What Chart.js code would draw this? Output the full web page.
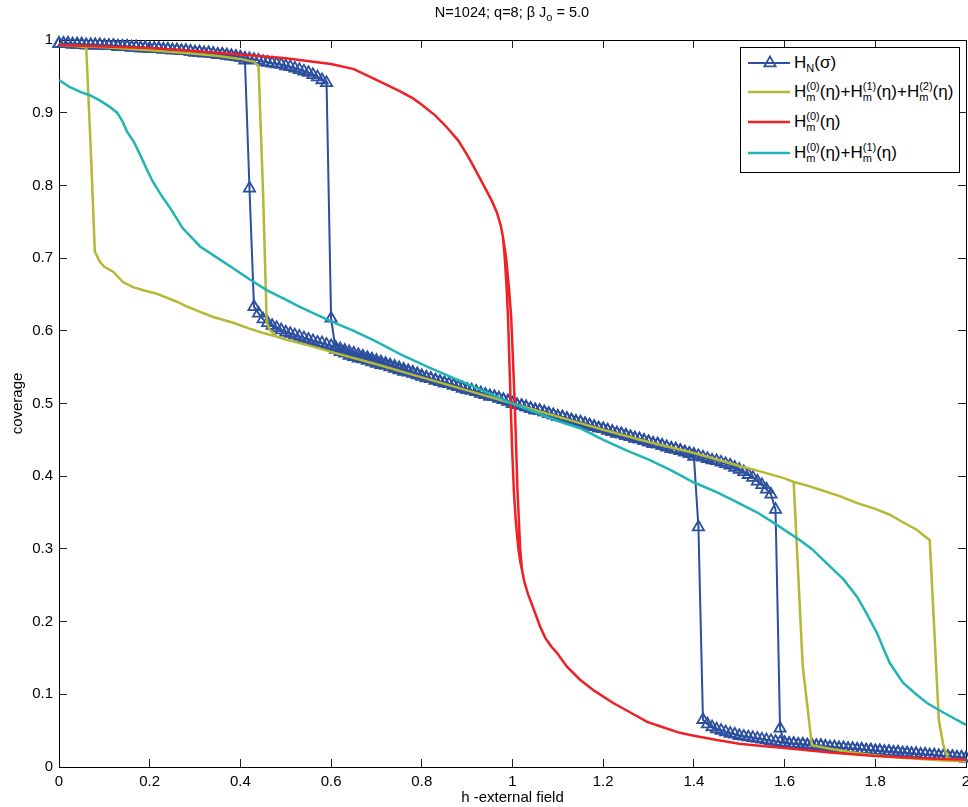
<!DOCTYPE html>
<html>
<head>
<meta charset="utf-8">
<script src="https://cdn.jsdelivr.net/npm/chart.js@4.4.0/dist/chart.umd.min.js"></script>
<style>
  html, body { margin: 0; padding: 0; background: #fff; }
  #wrap { position: relative; width: 968px; height: 807px; font-family: "Liberation Sans", Arial, Helvetica, sans-serif; color: #000; }
  #plot { position: absolute; left: 0; top: 0; }
  #title { position: absolute; left: 312px; top: 4px; width: 400px; text-align: center; font-size: 14.5px; }
  #title .sb { font-size: 11px; position: relative; top: 4px; }
  #legend { position: absolute; left: 740px; top: 47px; width: 218px; height: 124px; border: 1px solid #000; background: #fff; }
  #legend .row { position: absolute; left: 0; height: 30px; width: 218px; }
  #legend svg { position: absolute; left: 7px; top: 0; }
  #legend .txt { position: absolute; left: 53px; top: 4px; font-size: 17px; line-height: 22px; white-space: nowrap; }
  .sb1 { font-size: 11px; vertical-align: -4px; }
  .st { display: inline-block; font-size: 11px; line-height: 11px; vertical-align: -4px; }
  .st span { display: block; }
</style>
</head>
<body>
<div id="wrap">
  <canvas id="plot" width="968" height="807"></canvas>
  <div id="title">N=1024; q=8; β J<span class="sb">o</span> = 5.0</div>
  <div id="legend">
    <div class="row" style="top:0px">
      <svg width="44" height="30"><line x1="0" y1="15" x2="42" y2="15" stroke="#2c4f9f" stroke-width="2"/><polygon points="22,8.5 16.4,18.3 27.6,18.3" fill="none" stroke="#2c4f9f" stroke-width="1.8"/></svg>
      <span class="txt">H<span class="sb1">N</span>(σ)</span>
    </div>
    <div class="row" style="top:29px">
      <svg width="44" height="30"><line x1="0" y1="15" x2="42" y2="15" stroke="#b5b834" stroke-width="2.5"/></svg>
      <span class="txt">H<span class="st"><span>(0)</span><span>m</span></span>(η)+H<span class="st"><span>(1)</span><span>m</span></span>(η)+H<span class="st"><span>(2)</span><span>m</span></span>(η)</span>
    </div>
    <div class="row" style="top:59px">
      <svg width="44" height="30"><line x1="0" y1="15" x2="42" y2="15" stroke="#ee2125" stroke-width="2.5"/></svg>
      <span class="txt">H<span class="st"><span>(0)</span><span>m</span></span>(η)</span>
    </div>
    <div class="row" style="top:90px">
      <svg width="44" height="30"><line x1="0" y1="15" x2="42" y2="15" stroke="#21b4b6" stroke-width="2.5"/></svg>
      <span class="txt">H<span class="st"><span>(0)</span><span>m</span></span>(η)+H<span class="st"><span>(1)</span><span>m</span></span>(η)</span>
    </div>
  </div>
</div>
<script>
const xTicks = [0, 0.2, 0.4, 0.6, 0.8, 1, 1.2, 1.4, 1.6, 1.8, 2];
const yTicks = [0, 0.1, 0.2, 0.3, 0.4, 0.5, 0.6, 0.7, 0.8, 0.9, 1];

// field grid of the simulation, h = 0, 0.01, ... 2
const hGrid = Array.from({ length: 201 }, (_, i) => i / 100);

// H_N(sigma), increasing h
const blueUp = [
  0.995, 0.995, 0.995, 0.994, 0.994, 0.994, 0.993, 0.993, 0.993, 0.993,
  0.992, 0.992, 0.992, 0.991, 0.991, 0.991, 0.990, 0.990, 0.989, 0.989,
  0.988, 0.988, 0.988, 0.987, 0.987, 0.986, 0.986, 0.985, 0.985, 0.984,
  0.983, 0.983, 0.982, 0.982, 0.981, 0.980, 0.980, 0.979, 0.978, 0.977,
  0.976, 0.975, 0.974, 0.973, 0.972, 0.970, 0.969, 0.968, 0.967, 0.966,
  0.964, 0.963, 0.961, 0.959, 0.957, 0.955, 0.952, 0.949, 0.945, 0.941,
  0.617, 0.574,
  0.571, 0.569, 0.566, 0.564, 0.562, 0.561, 0.559, 0.557,
  0.555, 0.553, 0.552, 0.550, 0.548, 0.546, 0.544, 0.543, 0.541, 0.539,
  0.537, 0.535, 0.534, 0.532, 0.530, 0.528, 0.527, 0.525, 0.523, 0.521,
  0.519, 0.518, 0.516, 0.514, 0.512, 0.510, 0.509, 0.507, 0.505, 0.503,
  0.500, 0.498, 0.497, 0.495, 0.493, 0.491, 0.490, 0.488, 0.486, 0.484,
  0.482, 0.481, 0.479, 0.477, 0.475, 0.474, 0.472, 0.470, 0.468, 0.466,
  0.465, 0.463, 0.461, 0.459, 0.458, 0.456, 0.454, 0.452, 0.451, 0.449,
  0.447, 0.445, 0.444, 0.442, 0.440, 0.438, 0.437, 0.435, 0.433, 0.431,
  0.430, 0.428, 0.426, 0.424, 0.422, 0.421, 0.419, 0.417, 0.415, 0.412,
  0.409, 0.406, 0.402, 0.398, 0.393, 0.388, 0.382, 0.375,
  0.354, 0.053,
  0.033, 0.032, 0.032, 0.031, 0.031, 0.030, 0.030, 0.029, 0.029, 0.028,
  0.027, 0.027, 0.026, 0.026, 0.025, 0.025, 0.024, 0.024, 0.023, 0.023,
  0.022, 0.022, 0.021, 0.021, 0.020, 0.020, 0.019, 0.019, 0.018, 0.018,
  0.017, 0.017, 0.016, 0.016, 0.015, 0.015, 0.014, 0.014, 0.013, 0.013,
  0.012,
];

// H_N(sigma), decreasing h (stored in ascending h)
const blueDown = [
  0.995, 0.995, 0.995, 0.994, 0.994, 0.994, 0.993, 0.993, 0.993, 0.993,
  0.992, 0.992, 0.992, 0.991, 0.991, 0.991, 0.990, 0.990, 0.989, 0.989,
  0.988, 0.988, 0.988, 0.987, 0.987, 0.986, 0.986, 0.985, 0.985, 0.984,
  0.983, 0.983, 0.982, 0.982, 0.981, 0.980, 0.980, 0.979, 0.978, 0.977,
  0.976, 0.972,
  0.796, 0.633,
  0.624, 0.616, 0.611, 0.607, 0.604, 0.601,
  0.598, 0.596, 0.594, 0.592, 0.590, 0.588, 0.586, 0.584, 0.583, 0.581,
  0.579, 0.577, 0.575, 0.573, 0.571, 0.569, 0.567, 0.565, 0.563, 0.561,
  0.559, 0.557, 0.555, 0.553, 0.551, 0.549, 0.547, 0.545, 0.543, 0.541,
  0.538, 0.536, 0.534, 0.532, 0.530, 0.528, 0.527, 0.525, 0.523, 0.521,
  0.519, 0.518, 0.516, 0.514, 0.512, 0.510, 0.509, 0.507, 0.505, 0.503,
  0.500, 0.498, 0.497, 0.495, 0.493, 0.491, 0.490, 0.488, 0.486, 0.484,
  0.482, 0.481, 0.479, 0.477, 0.475, 0.474, 0.472, 0.470, 0.468, 0.466,
  0.465, 0.463, 0.461, 0.459, 0.458, 0.456, 0.454, 0.452, 0.451, 0.449,
  0.447, 0.445, 0.444, 0.442, 0.440, 0.438, 0.437, 0.435, 0.433, 0.431,
  0.427, 0.330, 0.065,
  0.059, 0.055, 0.052, 0.050, 0.048, 0.046, 0.045,
  0.043, 0.042, 0.041, 0.040, 0.039, 0.038, 0.037, 0.036, 0.035, 0.034,
  0.033, 0.032, 0.032, 0.031, 0.031, 0.030, 0.030, 0.029, 0.029, 0.028,
  0.027, 0.027, 0.026, 0.026, 0.025, 0.025, 0.024, 0.024, 0.023, 0.023,
  0.022, 0.022, 0.021, 0.021, 0.020, 0.020, 0.019, 0.019, 0.018, 0.018,
  0.017, 0.017, 0.016, 0.016, 0.015, 0.015, 0.014, 0.014, 0.013, 0.013,
  0.012,
];

// H0+H1+H2
const oliveUpH = [0, 0.1, 0.2, 0.3, 0.35, 0.4, 0.43, 0.44, 0.45, 0.458, 0.465, 0.48, 0.5, 0.55, 0.6, 0.7, 0.8, 0.9, 1.0, 1.1,
  1.2, 1.3, 1.4, 1.45, 1.5, 1.55, 1.6, 1.62, 1.65, 1.685, 1.72, 1.76, 1.8, 1.832, 1.86, 1.892, 1.92, 1.93, 1.94, 1.95, 1.96, 1.98, 2.0];
const oliveUpC = [0.993, 0.990, 0.986, 0.981, 0.978, 0.974, 0.970, 0.964, 0.790, 0.612, 0.601, 0.592, 0.588, 0.580, 0.571, 0.554, 0.536, 0.518, 0.500, 0.482,
  0.464, 0.447, 0.432, 0.423, 0.414, 0.406, 0.397, 0.392, 0.387, 0.380, 0.373, 0.363, 0.355, 0.347, 0.337, 0.326, 0.312, 0.190, 0.065, 0.030, 0.012, 0.009, 0.008];
const oliveDownH = [0, 0.03, 0.06, 0.07, 0.079, 0.09, 0.1, 0.12, 0.141, 0.163, 0.19, 0.216, 0.24, 0.26, 0.28, 0.311, 0.34, 0.384, 0.42, 0.45,
  0.48, 0.5, 0.55, 0.6, 0.7, 0.8, 0.9, 1.0, 1.1, 1.2, 1.3, 1.4, 1.45, 1.5, 1.55, 1.6, 1.62, 1.63, 1.64, 1.65,
  1.66, 1.7, 1.75, 1.8, 1.85, 1.9, 1.95, 2.0];
const oliveDownC = [0.993, 0.992, 0.990, 0.850, 0.709, 0.695, 0.688, 0.681, 0.667, 0.660, 0.655, 0.651, 0.645, 0.640, 0.634, 0.626, 0.619, 0.611, 0.603, 0.597,
  0.592, 0.588, 0.580, 0.571, 0.554, 0.536, 0.518, 0.500, 0.482, 0.464, 0.447, 0.432, 0.423, 0.414, 0.406, 0.397, 0.392, 0.265, 0.138, 0.085,
  0.030, 0.025, 0.020, 0.016, 0.013, 0.011, 0.009, 0.008];

// H0
const redUpH = [0, 0.1, 0.2, 0.3, 0.4, 0.5, 0.6, 0.65, 0.7, 0.75, 0.78, 0.8, 0.83, 0.855, 0.88, 0.9, 0.915, 0.928, 0.945, 0.955,
  0.966, 0.974, 0.979, 0.983, 0.987, 0.990, 0.993, 0.996, 0.999, 1.003, 1.007, 1.013, 1.017, 1.021, 1.026, 1.034, 1.045, 1.061, 1.072, 1.085,
  1.098, 1.12, 1.149, 1.18, 1.222, 1.26, 1.297, 1.33, 1.369, 1.4, 1.451, 1.5, 1.55, 1.6, 1.7, 1.8, 1.9, 2.0];
const redUpC = [0.993, 0.991, 0.989, 0.985, 0.980, 0.975, 0.967, 0.960, 0.945, 0.930, 0.920, 0.911, 0.896, 0.880, 0.862, 0.842, 0.825, 0.810, 0.790, 0.778,
  0.762, 0.745, 0.729, 0.700, 0.660, 0.620, 0.560, 0.500, 0.440, 0.380, 0.340, 0.300, 0.283, 0.271, 0.255, 0.238, 0.220, 0.193, 0.178, 0.166,
  0.157, 0.138, 0.120, 0.105, 0.088, 0.075, 0.062, 0.055, 0.047, 0.043, 0.037, 0.032, 0.029, 0.026, 0.020, 0.015, 0.012, 0.010];
const redDownH = [0, 0.1, 0.2, 0.3, 0.4, 0.5, 0.6, 0.65, 0.7, 0.75, 0.78, 0.8, 0.83, 0.855, 0.88, 0.9, 0.915, 0.928, 0.945, 0.955,
  0.966, 0.974, 0.979, 0.986, 0.992, 0.997, 1.001, 1.005, 1.008, 1.011, 1.014, 1.017, 1.021, 1.026, 1.034, 1.045, 1.061, 1.072, 1.085, 1.098,
  1.12, 1.149, 1.18, 1.222, 1.26, 1.297, 1.33, 1.369, 1.4, 1.451, 1.5, 1.55, 1.6, 1.7, 1.8, 1.9, 2.0];
const redDownC = [0.993, 0.991, 0.989, 0.985, 0.980, 0.975, 0.967, 0.960, 0.945, 0.930, 0.920, 0.911, 0.896, 0.880, 0.862, 0.842, 0.825, 0.810, 0.790, 0.778,
  0.762, 0.745, 0.729, 0.700, 0.660, 0.620, 0.560, 0.500, 0.440, 0.380, 0.340, 0.300, 0.271, 0.255, 0.238, 0.220, 0.193, 0.178, 0.166, 0.157,
  0.138, 0.120, 0.105, 0.088, 0.075, 0.062, 0.055, 0.047, 0.043, 0.037, 0.032, 0.029, 0.026, 0.020, 0.015, 0.012, 0.010];

// H0+H1
const cyanH = [0, 0.024, 0.05, 0.068, 0.09, 0.112, 0.128, 0.14, 0.15, 0.165, 0.179, 0.193, 0.207, 0.225, 0.245, 0.273, 0.311, 0.35, 0.384, 0.42,
  0.458, 0.5, 0.531, 0.6, 0.65, 0.7, 0.752, 0.818, 0.9, 1.0, 1.1, 1.149, 1.2, 1.25, 1.303, 1.35, 1.398, 1.45, 1.486, 1.54,
  1.583, 1.634, 1.66, 1.693, 1.73, 1.76, 1.78, 1.804, 1.82, 1.832, 1.861, 1.89, 1.914, 1.95, 2.0];
const cyanC = [0.945, 0.935, 0.928, 0.924, 0.917, 0.908, 0.900, 0.888, 0.874, 0.860, 0.842, 0.823, 0.805, 0.787, 0.769, 0.741, 0.716, 0.700, 0.686, 0.671,
  0.656, 0.643, 0.633, 0.613, 0.600, 0.585, 0.568, 0.549, 0.527, 0.500, 0.476, 0.466, 0.450, 0.436, 0.422, 0.408, 0.392, 0.378, 0.367, 0.350,
  0.333, 0.312, 0.300, 0.280, 0.258, 0.234, 0.212, 0.184, 0.160, 0.143, 0.116, 0.100, 0.088, 0.075, 0.058];

const BLUE = "#2c4f9f";
const OLIVE = "#b5b834";
const RED = "#ee2125";
const CYAN = "#21b4b6";

function pts(hs, cs) {
  return hs.map((h, i) => ({ x: h, y: cs[i] }));
}

// up sweep then back down, as one path
function loop(upH, upC, downH, downC) {
  return pts(upH, upC).concat(pts(downH, downC).reverse());
}

const font = { family: '"Liberation Sans", Arial, Helvetica, sans-serif', size: 15 };

function axisBox(pos) {
  return {
    type: "linear",
    position: pos,
    min: 0,
    max: pos === "bottom" || pos === "top" ? 2 : 1,
    afterBuildTicks: (s) => {
      const vals = s.isHorizontal() ? xTicks : yTicks;
      s.ticks = vals.map((v) => ({ value: v }));
    },
    ticks: { display: false },
    grid: { drawOnChartArea: false, tickLength: -8, color: "#222", lineWidth: 1 },
    border: { color: "#000", width: 1 },
  };
}

const xAxis = axisBox("bottom");
xAxis.ticks = { display: true, font, color: "#000", padding: 14, maxRotation: 0, autoSkip: false, callback: (v) => String(v) };
xAxis.title = { display: true, text: "h -external field", font, color: "#000", padding: { top: 0, bottom: 0 } };
xAxis.afterFit = (s) => { s.height = 40; s.paddingLeft = 0; s.paddingRight = 0; };

const yAxis = axisBox("left");
yAxis.ticks = { display: true, font, color: "#000", padding: 14, autoSkip: false, callback: (v) => String(v) };
yAxis.title = { display: true, text: "coverage", font, color: "#000", padding: { top: 9, bottom: 0 } };
yAxis.afterFit = (s) => { s.width = 59; s.paddingTop = 0; s.paddingBottom = 0; };

const xTop = axisBox("top");
xTop.afterFit = (s) => { s.height = 0; s.paddingLeft = 0; s.paddingRight = 0; };
const yRight = axisBox("right");
yRight.afterFit = (s) => { s.width = 0; s.paddingTop = 0; s.paddingBottom = 0; };

new Chart(document.getElementById("plot").getContext("2d"), {
  type: "line",
  data: {
    datasets: [
      {
        label: "H_N(sigma)",
        data: loop(hGrid, blueUp, hGrid, blueDown),
        borderColor: BLUE,
        borderWidth: 2,
        pointStyle: "triangle",
        pointRadius: 6.5,
        pointBorderWidth: 1.8,
        pointBorderColor: BLUE,
        pointBackgroundColor: "rgba(0,0,0,0)",
        order: 3,
      },
      {
        label: "H0+H1+H2",
        data: loop(oliveUpH, oliveUpC, oliveDownH, oliveDownC),
        borderColor: OLIVE,
        borderWidth: 2.5,
        pointRadius: 0,
        order: 2,
      },
      {
        label: "H0",
        data: loop(redUpH, redUpC, redDownH, redDownC),
        borderColor: RED,
        borderWidth: 2.5,
        pointRadius: 0,
        order: 1,
      },
      {
        label: "H0+H1",
        data: pts(cyanH, cyanC),
        borderColor: CYAN,
        borderWidth: 2.5,
        pointRadius: 0,
        order: 0,
      },
    ],
  },
  options: {
    responsive: false,
    animation: false,
    parsing: false,
    normalized: true,
    events: [],
    clip: false,
    layout: { autoPadding: false, padding: { top: 40, right: 2, bottom: 0, left: 0 } },
    elements: { line: { tension: 0, fill: false } },
    plugins: { legend: { display: false }, tooltip: { enabled: false }, title: { display: false } },
    scales: { x: xAxis, y: yAxis, x2: xTop, y2: yRight },
  },
});
</script>
</body>
</html>
